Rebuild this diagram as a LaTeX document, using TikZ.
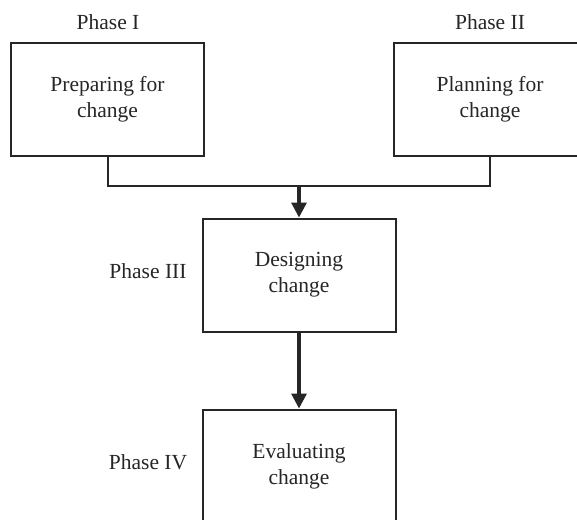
\documentclass[tikz,border=0pt]{standalone}
\usepackage{fontspec}
\setmainfont{Liberation Serif}
\usetikzlibrary{arrows.meta}
\begin{document}
\begin{tikzpicture}[x=1pt,y=-1pt,
  phasebox/.style={draw=black!85, line width=2pt, minimum width=193pt, minimum height=113pt,
    inner sep=0pt, align=center, font=\fontsize{21.5}{26}\selectfont, text=black!85},
  phaselabel/.style={font=\fontsize{21.5}{24}\selectfont, text=black!85, inner sep=0pt},
  link/.style={draw=black!85, line width=2pt},
  flow/.style={draw=black!85, line width=3.2pt, -{Triangle[width=15pt,length=15pt]}}]
\useasboundingbox (0,0) rectangle (577,519);
\clip (0,0) rectangle (577,519);
\fill[white] (0,0) rectangle (577,519);

\node[phasebox] (prep) at (107.5,99.5) {Preparing for\\change};
\node[phasebox] (plan) at (490,99.5) {Planning for\\change};
\node[phasebox] (design) at (299,275) {Designing\\change};
\node[phasebox] (eval) at (299,466) {Evaluating\\change};

\node[phaselabel] (l1) at (108,22) {Phase I};
\node[phaselabel] (l2) at (490,22) {Phase II};
\node[phaselabel] (l3) at (148,271) {Phase III};
\node[phaselabel] (l4) at (148,462) {Phase IV};

\coordinate (join) at (299,186);
\draw[link] (prep.south) |- (join) -| (plan.south);
\draw[flow] (join) -- (design.north);
\draw[flow] (design.south) -- (eval.north);
\end{tikzpicture}
\end{document}
